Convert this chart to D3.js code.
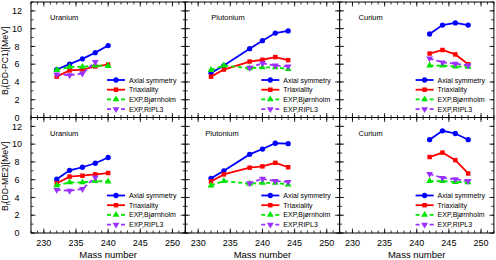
<!DOCTYPE html>
<html><head><meta charset="utf-8">
<script src="https://cdn.jsdelivr.net/npm/d3@7"></script>
<style>body{margin:0;background:#fff}svg{display:block;font-family:"Liberation Sans",Arial,sans-serif}</style>
</head><body><svg id="c" width="496" height="260"></svg>
<script>
// ---- data ----
const elements = ["Uranium", "Plutonium", "Curium"];
const rowLabels = ["DD-PC1", "DD-ME2"];
const massU  = [232, 234, 236, 238, 240];
const massPu = [232, 234, 238, 240, 242, 244];
const massCm = [242, 244, 246, 248];
const massU_ripl = [232, 234, 236, 238];
const massPu_ripl = [238, 240, 242, 244];

// DD-PC1
const pc1AxialU  = [5.4, 6.0, 6.6, 7.3, 8.1];
const pc1TriaxU  = [4.6, 5.3, 5.4, 5.75, 5.95];
const pc1AxialPu = [5.0, 5.85, 7.75, 8.65, 9.5, 9.75];
const pc1TriaxPu = [4.6, 5.4, 6.3, 6.5, 6.8, 6.45];
const pc1AxialCm = [9.4, 10.4, 10.65, 10.4];
const pc1TriaxCm = [7.2, 7.6, 7.1, 6.0];
// DD-ME2
const me2AxialU  = [6.05, 7.05, 7.4, 7.85, 8.5];
const me2TriaxU  = [5.6, 6.35, 6.45, 6.6, 6.75];
const me2AxialPu = [6.15, 7.0, 8.85, 9.45, 10.1, 10.05];
const me2TriaxPu = [5.8, 6.6, 7.35, 7.5, 7.9, 7.4];
const me2AxialCm = [10.5, 11.5, 11.2, 10.5];
const me2TriaxCm = [8.55, 9.05, 8.2, 6.7];
// experiment
const bjornU  = [5.35, 5.7, 5.7, 5.85, 5.8];
const bjornPu = [5.35, 5.85, 5.55, 5.65, 5.65, 5.45];
const bjornCm = [5.85, 5.85, 5.75, 5.7];
const riplU   = [4.85, 4.75, 4.95, 6.25];
const riplPu  = [5.6, 6.1, 5.85, 5.75];
const riplCm  = [6.65, 6.2, 6.05, 5.85];

const xTicks = [230, 235, 240, 245, 250];
const yTicks = [0, 2, 4, 6, 8, 10, 12];
const legendNames = ["Axial symmetry", "Triaxiality", "EXP,Bjørnholm", "EXP,RIPL3"];

// ---- layout ----
const svg = d3.select("#c");
const L = 31, T = 2, PW = 154.3, PH = 115.5;
const x = d3.scaleLinear().domain([228, 252]).range([0, PW]);
const y = d3.scaleLinear().domain([0, 13]).range([PH, 0]);

const styles = [
  {color: "#0000ff", dash: null, sym: d3.symbolCircle, size: 22},
  {color: "#ff0000", dash: null, sym: d3.symbolSquare, size: 20},
  {color: "#00e600", dash: "4,3", sym: d3.symbolTriangle, size: 20},
  {color: "#9b30ff", dash: "4,3", sym: d3.symbolTriangle, size: 20, flip: true}
];

const panels = [
  [ [massU, pc1AxialU, pc1TriaxU, bjornU, massU_ripl, riplU],
    [massPu, pc1AxialPu, pc1TriaxPu, bjornPu, massPu_ripl, riplPu],
    [massCm, pc1AxialCm, pc1TriaxCm, bjornCm, massCm, riplCm] ],
  [ [massU, me2AxialU, me2TriaxU, bjornU, massU_ripl, riplU],
    [massPu, me2AxialPu, me2TriaxPu, bjornPu, massPu_ripl, riplPu],
    [massCm, me2AxialCm, me2TriaxCm, bjornCm, massCm, riplCm] ]
];
const titleOffset = [[19, 26, 19], [19, 20, 19]];

const line = d3.line().x(d => x(d[0])).y(d => y(d[1]));

function drawSeries(g, xs, ys, st) {
  const pts = xs.map((m, i) => [m, ys[i]]);
  g.append("path").attr("d", line(pts)).attr("fill", "none")
    .attr("stroke", st.color).attr("stroke-width", 1.8)
    .attr("stroke-dasharray", st.dash);
  g.selectAll(null).data(pts).enter().append("path")
    .attr("d", d3.symbol().type(st.sym).size(st.size))
    .attr("transform", d => `translate(${x(d[0])},${y(d[1])})${st.flip ? " rotate(180)" : ""}`)
    .attr("fill", st.color);
}

for (let r = 0; r < 2; r++) {
  for (let c = 0; c < 3; c++) {
    const g = svg.append("g").attr("transform", `translate(${L + c * PW},${T + r * PH})`);
    const [mx, ax, tr, bj, mr, rp] = panels[r][c];

    // ticks inward on all four sides
    const minorX = d3.range(228, 253, 1), minorY = d3.range(0, 14, 1);
    const tk = (sel, sc, vals, len, horiz, pos) => {
      sel.selectAll(null).data(vals).enter().append("line")
        .attr("x1", d => horiz ? sc(d) : pos)
        .attr("x2", d => horiz ? sc(d) : pos + len)
        .attr("y1", d => horiz ? pos : sc(d))
        .attr("y2", d => horiz ? pos + len : sc(d))
        .attr("stroke", "#000").attr("stroke-width", 0.8);
    };
    tk(g, x, minorX, -2.5, true, PH); tk(g, x, xTicks, -4.5, true, PH);
    tk(g, x, minorX, 2.5, true, 0);   tk(g, x, xTicks, 4.5, true, 0);
    tk(g, y, minorY, 2.5, false, 0);  tk(g, y, yTicks, 4.5, false, 0);
    tk(g, y, minorY, -2.5, false, PW); tk(g, y, yTicks, -4.5, false, PW);

    g.append("rect").attr("width", PW).attr("height", PH)
      .attr("fill", "none").attr("stroke", "#000").attr("stroke-width", 1);

    if (r === 1) {
      g.selectAll(null).data(xTicks).enter().append("text")
        .attr("x", d => x(d)).attr("y", PH + 13).attr("text-anchor", "middle")
        .attr("font-size", 9).text(d => d);
      g.append("text").attr("x", PW / 2).attr("y", PH + 25).attr("text-anchor", "middle")
        .attr("font-size", 9.5).text("Mass number");
    }
    if (c === 0) {
      g.selectAll(null).data(yTicks).enter().append("text")
        .attr("x", -14).attr("y", d => y(d) + 3.2).attr("text-anchor", "middle")
        .attr("font-size", 9).text(d => d);
      const lab = g.append("text").attr("transform", `translate(${-23},${PH / 2 + 1}) rotate(-90)`)
        .attr("text-anchor", "middle").attr("font-size", 8.7);
      lab.append("tspan").text("B");
      lab.append("tspan").attr("font-size", 6).attr("dy", 2).text("f");
      lab.append("tspan").attr("dy", -2).text(`(${rowLabels[r]})[MeV]`);
    }

    g.append("text").attr("x", titleOffset[r][c]).attr("y", 18).attr("font-size", 7.5)
      .text(elements[c]);

    const data = [[mx, ax], [mx, tr], [mx, bj], [mr, rp]];
    data.forEach((d, i) => drawSeries(g, d[0], d[1], styles[i]));

    // legend
    legendNames.forEach((name, i) => {
      const ly = 78 + i * 9.7, lx = 76;
      const st = styles[i];
      g.append("line").attr("x1", lx).attr("x2", lx + 18).attr("y1", ly).attr("y2", ly)
        .attr("stroke", st.color).attr("stroke-width", 1.8).attr("stroke-dasharray", st.dash);
      g.append("path").attr("d", d3.symbol().type(st.sym).size(st.size))
        .attr("transform", `translate(${lx + 9},${ly})${st.flip ? " rotate(180)" : ""}`)
        .attr("fill", st.color);
      g.append("text").attr("x", lx + 22).attr("y", ly + 2.5).attr("font-size", 7).text(name);
    });
  }
}
</script></body></html>
